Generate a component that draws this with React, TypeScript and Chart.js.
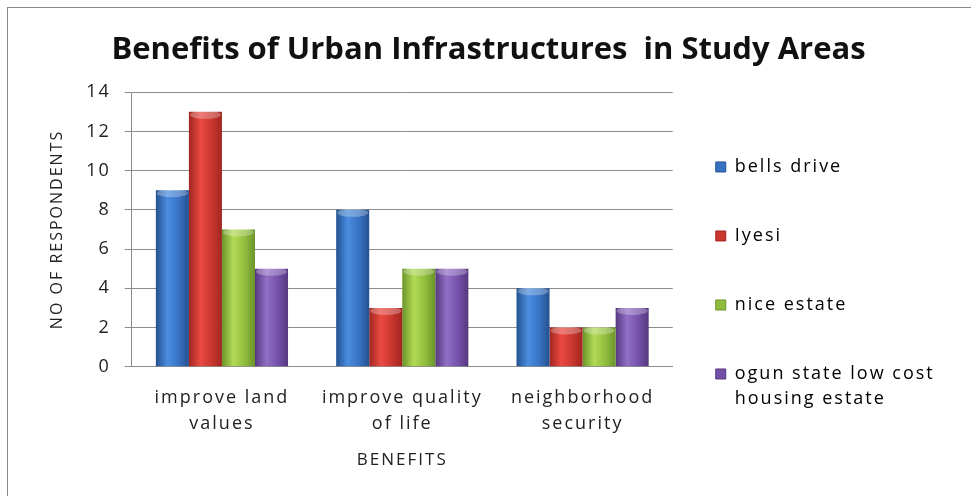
import React, { useEffect, useRef } from "react";
import { Chart, registerables } from "chart.js";

Chart.register(...registerables);

const categories: string[][] = [
  ["improve land", "values"],
  ["improve quality", "of life"],
  ["neighborhood", "security"],
];
const seriesNames: (string | string[])[] = [
  "bells drive",
  "Iyesi",
  "nice estate",
  ["ogun state low cost", "housing estate"],
];
const bellsDrive = [9, 8, 4];
const iyesi = [13, 3, 2];
const niceEstate = [7, 5, 2];
const ogunState = [5, 5, 3];
const yTicks = [0, 2, 4, 6, 8, 10, 12, 14];

const palette = [
  { dark: "#24518f", light: "#4a8de0", base: "#3872c2" },
  { dark: "#a02620", light: "#ea4a42", base: "#c8362e" },
  { dark: "#6a942a", light: "#b2da55", base: "#8fbc3c" },
  { dark: "#55377f", light: "#9270c6", base: "#7450a8" },
];

function makeBg(p: { dark: string; light: string; base: string }) {
  return (ctx: any) => {
    const el = ctx.element;
    if (!el || !isFinite(el.x) || !el.width) return p.base;
    const g = ctx.chart.ctx.createLinearGradient(el.x - el.width / 2, 0, el.x + el.width / 2, 0);
    g.addColorStop(0, p.dark);
    g.addColorStop(0.35, p.light);
    g.addColorStop(0.7, p.base);
    g.addColorStop(1, p.dark);
    return g;
  };
}

const FONT = "'Open Sans', sans-serif";
const SPACING = "2px";

export default function App() {
  const ref = useRef<HTMLCanvasElement | null>(null);
  useEffect(() => {
    if (!ref.current) return;
    const values = [bellsDrive, iyesi, niceEstate, ogunState];
    const helperPlugin = {
      id: "helper",
      afterInit(chart: any) {
        const t = chart.titleBlock;
        if (t) {
          const orig = t.draw.bind(t);
          t.draw = (...args: any[]) => {
            const c = chart.ctx;
            const prev = c.letterSpacing;
            c.letterSpacing = "0px";
            orig(...args);
            c.letterSpacing = prev;
          };
        }
      },
      beforeUpdate(chart: any) {
        chart.ctx.letterSpacing = SPACING;
      },
      beforeDraw(chart: any) {
        chart.ctx.letterSpacing = SPACING;
      },
      afterLayout(chart: any) {
        if (chart.legend) {
          chart.legend.left -= 8;
          chart.legend.right = chart.width;
          chart.legend.top += 84;
        }
        if (chart.titleBlock) {
          chart.titleBlock.left = 0;
          chart.titleBlock.right = 959;
        }
      },
      afterDatasetsDraw(chart: any) {
        const c = chart.ctx;
        chart.data.datasets.forEach((_: any, di: number) => {
          const meta = chart.getDatasetMeta(di);
          meta.data.forEach((bar: any) => {
            const w = bar.width;
            c.save();
            c.beginPath();
            c.ellipse(bar.x, bar.y + 3, w / 2 - 1, 4, 0, 0, Math.PI * 2);
            c.fillStyle = "rgba(255,255,255,0.28)";
            c.fill();
            c.restore();
          });
        });
      },
    };
    const chart = new Chart(ref.current, {
      type: "bar",
      data: {
        labels: categories,
        datasets: values.map((v, i) => ({
          label: Array.isArray(seriesNames[i]) ? (seriesNames[i] as string[]).join(" ") : (seriesNames[i] as string),
          data: v,
          backgroundColor: makeBg(palette[i]),
          borderWidth: 0,
          categoryPercentage: 0.733,
          barPercentage: 1,
        })),
      },
      options: {
        animation: false,
        responsive: true,
        maintainAspectRatio: false,
        layout: { padding: { left: 39, right: 82, top: 0, bottom: 13 } },
        plugins: {
          tooltip: { enabled: false },
          title: {
            display: true,
            text: "Benefits of Urban Infrastructures  in Study Areas",
            color: "#111",
            font: { family: FONT, size: 31, weight: "bold", lineHeight: 1.2 },
            padding: { top: 23, bottom: 23 },
          },
          legend: {
            position: "right",
            align: "center",
            labels: {
              boxWidth: 10,
              boxHeight: 10,
              padding: 51,
              color: "#222",
              font: { family: FONT, size: 18, lineHeight: 1.39 },
              generateLabels: () =>
                seriesNames.map((name, i) => ({
                  text: name as any,
                  fillStyle: palette[i].base,
                  strokeStyle: palette[i].dark,
                  lineWidth: 1,
                  hidden: false,
                  datasetIndex: i,
                })),
            },
          },
        },
        scales: {
          x: {
            grid: { display: false, drawTicks: false },
            border: { display: true, color: "#8c8c8c", width: 1 },
            ticks: {
              color: "#222",
              padding: 18,
              maxRotation: 0,
              autoSkip: false,
              font: { family: FONT, size: 18, lineHeight: 1.44 },
            },
            title: {
              display: true,
              text: "BENEFITS",
              color: "#222",
              font: { family: FONT, size: 17, lineHeight: 1.2 },
              padding: { top: -5, bottom: 10 },
            },
          },
          y: {
            min: 0,
            max: 14,
            afterBuildTicks: (scale: any) => {
              scale.ticks = yTicks.map((v) => ({ value: v }));
            },
            grid: { color: "#8c8c8c", lineWidth: 1, tickLength: 7, drawTicks: true },
            border: { display: true, color: "#8c8c8c", width: 1 },
            ticks: {
              color: "#222",
              padding: 14,
              font: { family: FONT, size: 18, lineHeight: 1.2 },
            },
            title: {
              display: true,
              text: "NO OF RESPONDENTS",
              color: "#222",
              font: { family: FONT, size: 16, lineHeight: 1.2 },
              padding: { top: 0, bottom: 5 },
            },
          },
        },
      },
      plugins: [helperPlugin],
    });
    chart.update();
    return () => chart.destroy();
  }, []);

  return (
    <div
      style={{
        position: "absolute",
        left: 7,
        top: 7,
        width: 964,
        height: 489,
        borderTop: "1px solid #888",
        borderLeft: "1px solid #888",
        boxSizing: "border-box",
        background: "#fff",
      }}
    >
      <div style={{ position: "absolute", left: 1, top: 1, width: 954, height: 484 }}>
        <canvas ref={ref} />
      </div>
    </div>
  );
}
